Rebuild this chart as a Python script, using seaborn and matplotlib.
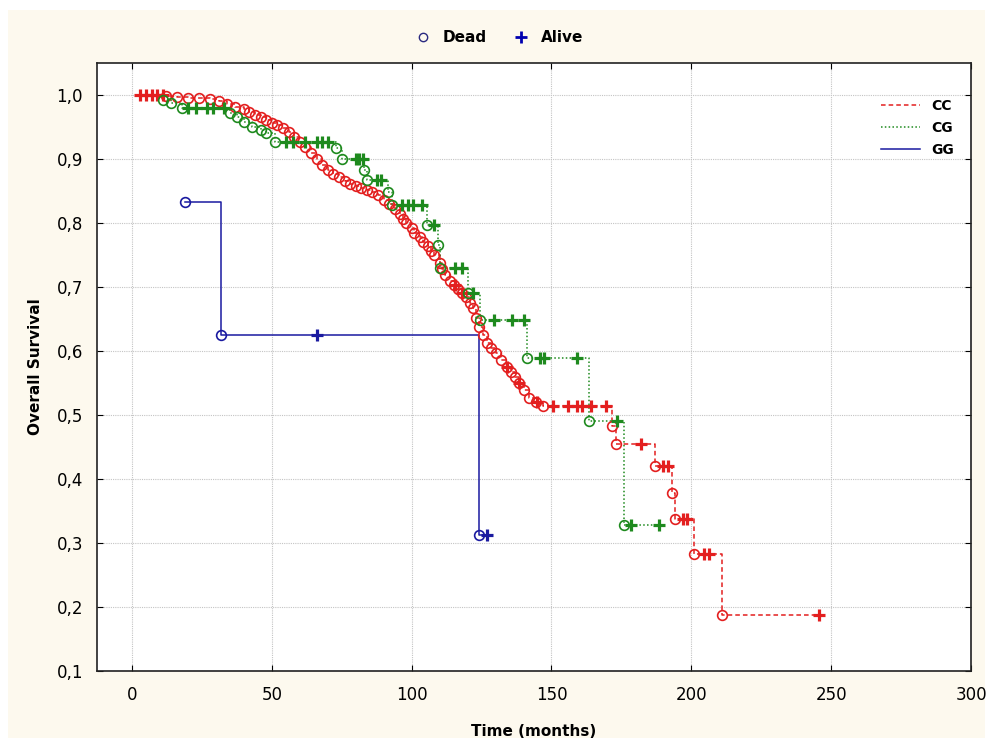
import numpy as np
import pandas as pd
import matplotlib
matplotlib.use('Agg')
import matplotlib.pyplot as plt
from matplotlib.lines import Line2D
from matplotlib.patches import Rectangle
import seaborn as sns

# CC group (red, dashed) - deaths / censored
cc_dead_t = [12, 16, 20, 24, 28, 31, 34, 37, 40, 42, 44, 46, 48, 50, 52, 54, 56, 58, 60, 62,
             64, 66, 68, 70, 72, 74, 76, 78, 80, 82, 84, 86, 88, 90, 92, 94, 96, 97, 98, 100,
             101, 103, 104, 106, 107, 108, 110, 111, 112, 113.6, 115, 116.5, 118, 119.6, 121,
             122, 123, 124, 125.5, 127, 128.5, 130, 132, 134, 135.5, 137, 138.5, 140, 142,
             144.5, 147, 171.5, 173, 187, 193, 194, 201, 211]
cc_dead_s = [.998, .997, .996, .995, .993, .99, .986, .982, .978, .973, .969, .965, .961, .957,
             .953, .948, .942, .935, .927, .918, .909, .9, .891, .883, .877, .872, .866, .861,
             .858, .855, .852, .848, .843, .836, .829, .822, .814, .807, .8, .792, .785, .778,
             .771, .764, .757, .75, .737, .728, .719, .71, .703, .697, .69, .684, .675, .667,
             .652, .637, .625, .612, .605, .597, .586, .575, .567, .56, .55, .539, .527, .52,
             .514, .483, .455, .42, .378, .337, .283, .1875]
cc_alive_t = [3, 5, 7, 9, 11, 115.5, 118, 134, 138.5, 145, 150.5, 156, 159, 161, 164, 169.5,
              182, 190, 191.5, 197, 198.5, 204.6, 206.4, 245.7]
cc_alive_s = [1, 1, 1, 1, 1, .703, .69, .575, .55, .52, .514, .514, .514, .514, .514, .514,
              .455, .42, .42, .337, .337, .283, .283, .1875]

# CG group (green, dotted)
cg_dead_t = [11, 14, 18, 35, 37.5, 40, 43, 46, 48, 51, 73, 75, 83, 84, 91.4, 93, 105.4, 109.3,
             110, 120, 124.3, 141.4, 163.4, 176]
cg_dead_s = [.992, .988, .98, .972, .966, .958, .95, .945, .94, .927, .917, .9, .883, .867,
             .848, .828, .797, .766, .73, .69, .648, .589, .49, .328]
cg_alive_t = [20, 23, 27, 29, 33, 55, 57.5, 62, 66, 68, 70, 80, 81, 82.5, 87.5, 89, 96.4, 98.6,
              100.4, 103.6, 108, 115.4, 118, 122, 129.6, 136, 140, 146, 147.5, 159.3, 173.6,
              178.6, 188.6]
cg_alive_s = [.98, .98, .98, .98, .98, .927, .927, .927, .927, .927, .927, .9, .9, .9, .867,
              .867, .828, .828, .828, .828, .797, .73, .73, .69, .648, .648, .648, .589, .589,
              .589, .49, .328, .328]

# GG group (blue, solid)
gg_dead_t = [19, 32, 124]
gg_dead_s = [.8333, .625, .3125]
gg_alive_t = [66, 127]
gg_alive_s = [.625, .3125]

groups = ['CC', 'CG', 'GG']
colors = {'CC': '#e31f1f', 'CG': '#1e8a1e', 'GG': '#1a1aa0'}
styles = {'CC': (0, (3, 2)), 'CG': (0, (1, 1.5)), 'GG': '-'}

rows = []
for g, dt, ds, at, as_ in [('CC', cc_dead_t, cc_dead_s, cc_alive_t, cc_alive_s),
                           ('CG', cg_dead_t, cg_dead_s, cg_alive_t, cg_alive_s),
                           ('GG', gg_dead_t, gg_dead_s, gg_alive_t, gg_alive_s)]:
    for t, s in zip(dt, ds):
        rows.append((g, t, s, 'Dead'))
    for t, s in zip(at, as_):
        rows.append((g, t, s, 'Alive'))
df = pd.DataFrame(rows, columns=['group', 'time', 'surv', 'status'])
df = df.sort_values(['group', 'time']).reset_index(drop=True)

cream = '#fdf9ee'
fig = plt.figure(figsize=(9.91, 7.44), dpi=100)
fig.patch.set_facecolor('white')
fig.patches.append(Rectangle((8 / 991, 6 / 744), 977 / 991, 728 / 744, transform=fig.transFigure,
                             facecolor=cream, edgecolor='none', zorder=-10))
ax = fig.add_axes([97 / 991, 1 - 671 / 744, (971 - 97) / 991, (671 - 63) / 744])
ax.set_facecolor('white')

for g in groups:
    d = df[df.group == g]
    sns.lineplot(data=d, x='time', y='surv', ax=ax, estimator=None, sort=False,
                 drawstyle='steps-post', color=colors[g], linestyle=styles[g], lw=1.1, zorder=2)
    dd = d[d.status == 'Dead']
    ax.plot(dd.time, dd.surv, 'o', ms=7, mfc='none', mec=colors[g], mew=1.2, zorder=3)
    da = d[d.status == 'Alive']
    ax.plot(da.time, da.surv, '+', ms=9, mec=colors[g], mew=2.3, zorder=3)

ax.set_xlim(-12.5, 300)
ax.set_ylim(0.1, 1.05)
ax.set_xticks(np.arange(0, 301, 50))
ax.set_yticks(np.round(np.arange(0.1, 1.01, 0.1), 1))
ax.set_yticklabels([f'{v:.1f}'.replace('.', ',') for v in np.arange(0.1, 1.01, 0.1)])
ax.grid(True, color='#c4c4c4', linestyle=(0, (1, 1)), lw=0.8)
ax.set_axisbelow(True)
ax.tick_params(direction='in', length=4, labelsize=12, top=True, right=True, colors='black')
for sp in ax.spines.values():
    sp.set_color('#222222')
    sp.set_linewidth(1.2)
ax.tick_params(axis='x', pad=11)
ax.tick_params(axis='y', pad=10)
ax.set_xlabel('Time (months)', fontsize=11, fontweight='bold', labelpad=14)
ax.set_ylabel('Overall Survival', fontsize=11, fontweight='bold', labelpad=10)

line_handles = [Line2D([], [], color=colors[g], linestyle=styles[g], lw=1.1) for g in groups]
leg = ax.legend(line_handles, groups, loc='upper right', bbox_to_anchor=(0.995, 0.962),
                frameon=False, prop={'weight': 'bold', 'size': 10}, handlelength=2.8,
                labelspacing=0.6)

mk_handles = [Line2D([], [], marker='o', ls='none', mfc='none', mec='#2a2a80', ms=6, mew=1),
              Line2D([], [], marker='+', ls='none', mec='#0000b0', ms=9, mew=2)]
fig.legend(mk_handles, ['Dead', 'Alive'], loc='center', bbox_to_anchor=(0.5, 1 - 38 / 744),
           ncol=2, frameon=False, prop={'weight': 'bold', 'size': 11}, handletextpad=0.3,
           columnspacing=1.2)

fig.savefig('out.png', dpi=100, facecolor=fig.get_facecolor())
